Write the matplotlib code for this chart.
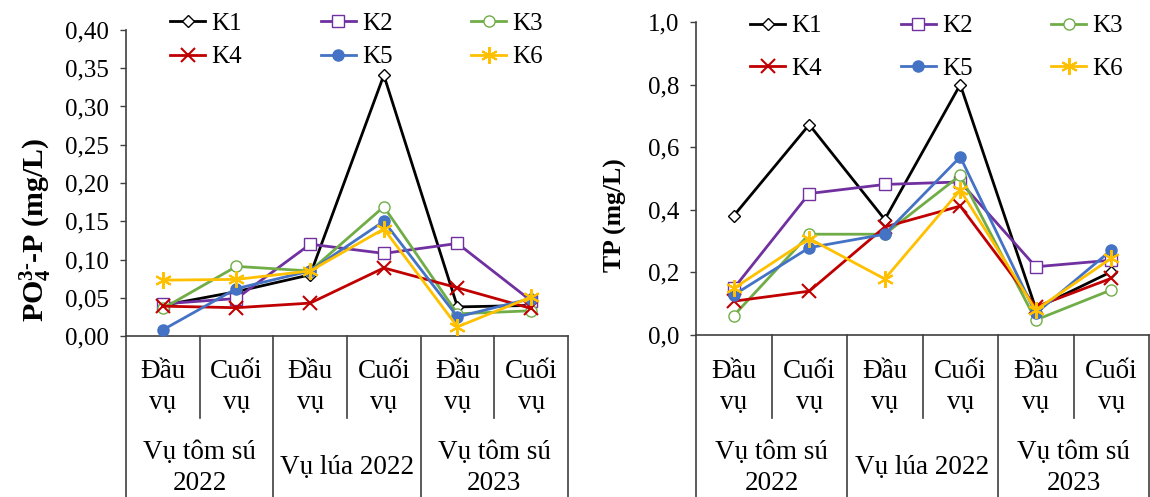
import matplotlib
matplotlib.use("Agg")
import matplotlib.pyplot as plt
from matplotlib.transforms import blended_transform_factory

plt.rcParams['font.family'] = ['Liberation Serif', 'DejaVu Serif']
plt.rcParams['mathtext.fontset'] = 'custom'
plt.rcParams['mathtext.rm'] = 'Liberation Serif'
plt.rcParams['mathtext.bf'] = 'Liberation Serif:bold'
plt.rcParams['mathtext.it'] = 'Liberation Serif:italic'

stages = ["Đầu\nvụ", "Cuối\nvụ", "Đầu\nvụ", "Cuối\nvụ", "Đầu\nvụ", "Cuối\nvụ"]
seasons = ["Vụ tôm sú\n2022", "Vụ lúa 2022", "Vụ tôm sú\n2023"]
series_names = ["K1", "K2", "K3", "K4", "K5", "K6"]

po4_K1 = [0.040, 0.058, 0.080, 0.341, 0.038, 0.040]
po4_K2 = [0.042, 0.049, 0.120, 0.108, 0.121, 0.046]
po4_K3 = [0.036, 0.091, 0.085, 0.169, 0.029, 0.033]
po4_K4 = [0.039, 0.037, 0.043, 0.089, 0.063, 0.036]
po4_K5 = [0.008, 0.062, 0.085, 0.150, 0.025, 0.049]
po4_K6 = [0.073, 0.074, 0.085, 0.140, 0.012, 0.051]

tp_K1 = [0.381, 0.672, 0.369, 0.800, 0.085, 0.202]
tp_K2 = [0.149, 0.452, 0.481, 0.489, 0.218, 0.239]
tp_K3 = [0.062, 0.322, 0.322, 0.510, 0.048, 0.144]
tp_K4 = [0.108, 0.140, 0.345, 0.412, 0.090, 0.181]
tp_K5 = [0.128, 0.279, 0.322, 0.569, 0.069, 0.271]
tp_K6 = [0.149, 0.308, 0.179, 0.463, 0.080, 0.245]

po4_ticks = ["0,00", "0,05", "0,10", "0,15", "0,20", "0,25", "0,30", "0,35", "0,40"]
tp_ticks = ["0,0", "0,2", "0,4", "0,6", "0,8", "1,0"]

styles = [
    dict(color="#000000", marker="D", mfc="white", mec="#000000", ms=6),
    dict(color="#7030A0", marker="s", mfc="white", mec="#7030A0", ms=8),
    dict(color="#70AD47", marker="o", mfc="white", mec="#70AD47", ms=8),
    dict(color="#C00000", marker="x", mfc="#C00000", mec="#C00000", ms=10, mew=1.5),
    dict(color="#4472C4", marker="o", mfc="#4472C4", mec="#4472C4", ms=8),
    dict(color="#FFC000", marker=(6, 2, 0), mfc="#FFC000", mec="#FFC000", ms=12, mew=1.5),
]

FS_TICK = 18
FS_CAT = 19.5
FS_LEG = 18
W, H = 1150, 497
fig = plt.figure(figsize=(W / 100, H / 100), dpi=100)

def px_ax(x0, x1, ytop, ybot):
    return fig.add_axes([x0 / W, 1 - ybot / H, (x1 - x0) / W, (ybot - ytop) / H])

def draw(ax, data, ymax, ticks, ylabel, ylab_xy, ylab_fs, leg_xy, leg_ls):
    n = len(stages)
    xs = list(range(n))
    lines = []
    for name, vals, st in zip(series_names, data, styles):
        ln, = ax.plot(xs, vals, lw=2, label=name, zorder=3, clip_on=False, **st)
        lines.append(ln)
    ax.set_xlim(-0.5, n - 0.5)
    ax.set_ylim(0, ymax)
    ax.set_yticks([ymax * i / (len(ticks) - 1) for i in range(len(ticks))])
    ax.set_yticklabels(ticks, fontsize=FS_TICK)
    ax.tick_params(axis='y', direction='out', length=4, width=1, color='#404040', pad=8)
    ax.set_xticks([])
    for s in ['top', 'right']:
        ax.spines[s].set_visible(False)
    for s in ['left', 'bottom']:
        ax.spines[s].set_color('#404040')
        ax.spines[s].set_linewidth(1.2)
    tr = blended_transform_factory(ax.transData, fig.transFigure)
    ybot_axis = ax.get_position().y0
    for i in range(n + 1):
        xb = i - 0.5
        y_end = 0.0 if i % 2 == 0 else 1 - 418 / H
        ax.plot([xb, xb], [ybot_axis, y_end], transform=tr, color='#404040',
                lw=1.2, clip_on=False)
    for i, lab in enumerate(stages):
        ax.text(i, 1 - 387 / H, lab, transform=tr, ha='center', va='center',
                fontsize=FS_CAT, linespacing=1.3)
    for j, lab in enumerate(seasons):
        ax.text(2 * j + 0.5, 1 - 468 / H, lab, transform=tr, ha='center', va='center',
                fontsize=FS_CAT, linespacing=1.3)
    fig.text(ylab_xy[0] / W, 1 - ylab_xy[1] / H, ylabel, rotation=90, ha='center',
             va='center', fontsize=ylab_fs, fontweight='bold')
    order = [0, 3, 1, 4, 2, 5]
    ax.legend([lines[k] for k in order], [series_names[k] for k in order],
              ncol=3, loc='upper left', bbox_to_anchor=(leg_xy[0] / W, 1 - leg_xy[1] / H),
              bbox_transform=fig.transFigure, frameon=False, fontsize=FS_LEG,
              handlelength=1.4, handletextpad=0.25, columnspacing=3.15,
              labelspacing=leg_ls, borderaxespad=0, borderpad=0)

ax1 = px_ax(126, 568, 30, 336)
draw(ax1, [po4_K1, po4_K2, po4_K3, po4_K4, po4_K5, po4_K6], 0.40, po4_ticks,
     r'PO$_\mathbf{4}^\mathbf{3\text{-}}$-P (mg/L)', (35, 230), 21.5, (170, 12), 0.45)

ax2 = px_ax(696, 1149, 22, 335)
draw(ax2, [tp_K1, tp_K2, tp_K3, tp_K4, tp_K5, tp_K6], 1.0, tp_ticks,
     'TP (mg/L)', (615, 215), 18.5, (750, 15), 0.8)

fig.savefig("out.png", dpi=100)
